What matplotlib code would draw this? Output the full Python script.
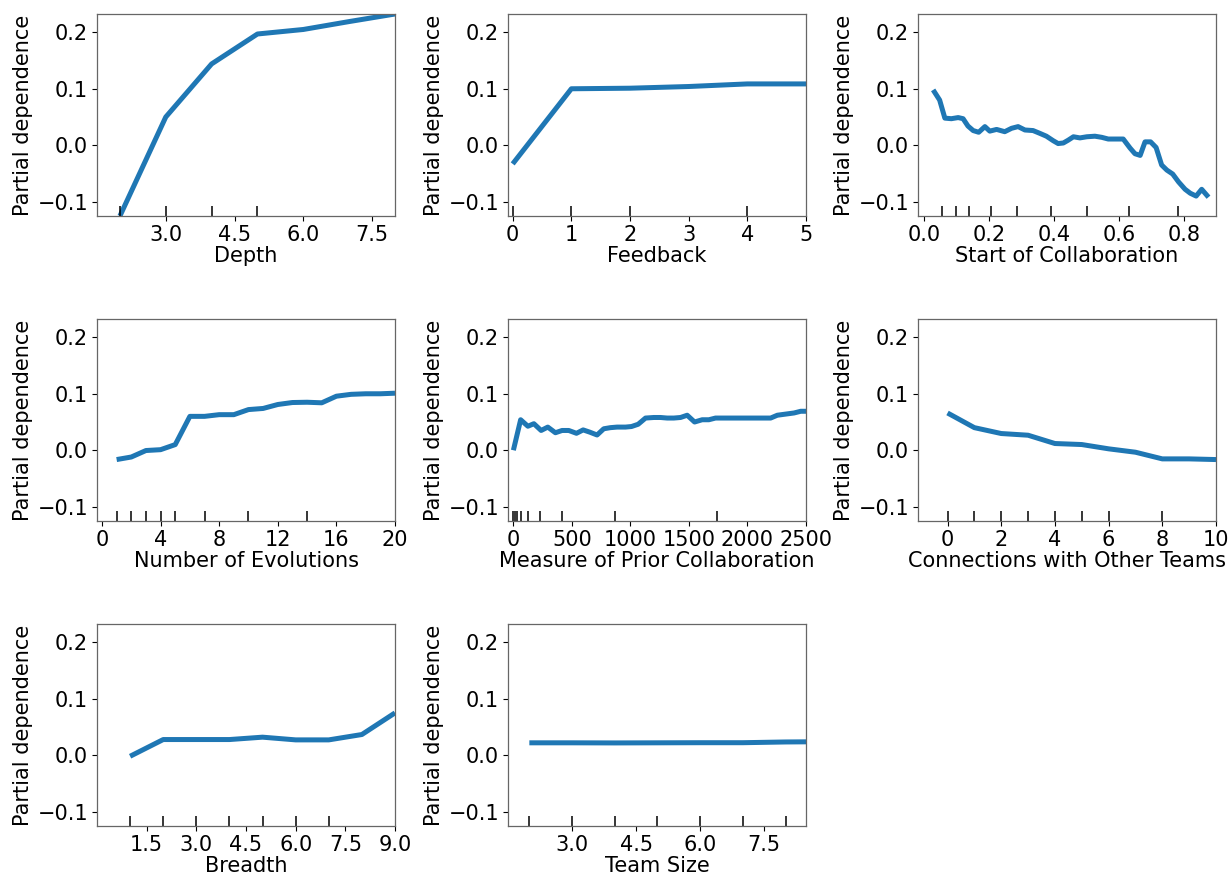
import numpy as np
import matplotlib
matplotlib.use("Agg")
import matplotlib.pyplot as plt
import matplotlib.transforms as mtransforms

# Partial dependence curves (feature grid value -> partial dependence)
depth_x = [2, 3, 4, 5, 6, 7, 8]
depth_y = [-0.1253, 0.050, 0.144, 0.197, 0.205, 0.219, 0.2324]
depth_deciles = [2, 3, 4, 5]

feedback_x = [0, 1, 2, 3, 4, 5]
feedback_y = [-0.033, 0.100, 0.101, 0.104, 0.1086, 0.1086]
feedback_deciles = [0, 1, 2, 4]

start_x = [0.029, 0.049, 0.065, 0.085, 0.106, 0.121, 0.136, 0.152, 0.169, 0.188,
           0.203, 0.224, 0.249, 0.270, 0.290, 0.311, 0.336, 0.357, 0.377, 0.398,
           0.413, 0.429, 0.444, 0.460, 0.480, 0.501, 0.526, 0.547, 0.567, 0.588,
           0.613, 0.634, 0.649, 0.665, 0.680, 0.697, 0.714, 0.731, 0.747, 0.765,
           0.783, 0.803, 0.819, 0.837, 0.854, 0.875]
start_y = [0.098, 0.080, 0.048, 0.047, 0.049, 0.047, 0.034, 0.026, 0.023, 0.033,
           0.025, 0.028, 0.024, 0.030, 0.033, 0.027, 0.026, 0.021, 0.016, 0.008,
           0.003, 0.004, 0.009, 0.015, 0.013, 0.015, 0.016, 0.014, 0.011, 0.011,
           0.011, -0.005, -0.015, -0.018, 0.006, 0.006, -0.004, -0.035, -0.044, -0.051,
           -0.065, -0.078, -0.085, -0.090, -0.078, -0.092]
start_deciles = [0.056, 0.098, 0.138, 0.206, 0.287, 0.392, 0.502, 0.630, 0.781]

evol_x = list(range(1, 21))
evol_y = [-0.0165, -0.012, -0.0005, 0.001, 0.010, 0.060, 0.060, 0.063, 0.063, 0.072,
          0.074, 0.081, 0.0845, 0.085, 0.084, 0.0957, 0.099, 0.100, 0.100, 0.101]
evol_deciles = [1, 2, 3, 4, 5, 7, 10, 14]

prior_x = [0, 62, 124, 175, 237, 294, 359, 416, 473, 539, 596, 653, 715, 772, 829,
           886, 958, 1009, 1066, 1129, 1200, 1257, 1314, 1371, 1428, 1485, 1548,
           1613, 1670, 1727, 1827, 1941, 2055, 2198, 2255, 2326, 2398, 2455, 2500]
prior_y = [0.000, 0.054, 0.0425, 0.047, 0.035, 0.041, 0.031, 0.035, 0.035, 0.030,
           0.036, 0.032, 0.027, 0.038, 0.040, 0.041, 0.041, 0.042, 0.046, 0.057,
           0.058, 0.058, 0.057, 0.057, 0.058, 0.062, 0.050, 0.054, 0.054, 0.057,
           0.057, 0.057, 0.057, 0.057, 0.062, 0.064, 0.066, 0.069, 0.069]
prior_deciles = [0, 11, 28, 68, 124, 226, 418, 868, 1738]

conn_x = list(range(0, 11))
conn_y = [0.066, 0.040, 0.0296, 0.0266, 0.0119, 0.0101, 0.0025, -0.0035, -0.0153,
          -0.0153, -0.0165]
conn_deciles = [0, 1, 2, 3, 4, 5, 6, 8]

breadth_x = list(range(1, 10))
breadth_y = [-0.0018, 0.0278, 0.0278, 0.0278, 0.032, 0.0272, 0.0272, 0.0367, 0.075]
breadth_deciles = [1, 2, 3, 4, 5, 6, 7]

team_x = list(range(2, 10))
team_y = [0.022, 0.022, 0.0218, 0.022, 0.0222, 0.0222, 0.0235, 0.024]
team_deciles = [2, 3, 4, 5, 6, 7, 8]

panels = [
    ("Depth", depth_x, depth_y, depth_deciles, (1.5, 8.0), [3.0, 4.5, 6.0, 7.5]),
    ("Feedback", feedback_x, feedback_y, feedback_deciles, (-0.08, 5.0), [0, 1, 2, 3, 4, 5]),
    ("Start of Collaboration", start_x, start_y, start_deciles, (-0.0175, 0.898),
     [0.0, 0.2, 0.4, 0.6, 0.8]),
    ("Number of Evolutions", evol_x, evol_y, evol_deciles, (-0.34, 20), [0, 4, 8, 12, 16, 20]),
    ("Measure of Prior Collaboration", prior_x, prior_y, prior_deciles, (-46, 2500),
     [0, 500, 1000, 1500, 2000, 2500]),
    ("Connections with Other Teams", conn_x, conn_y, conn_deciles, (-1.1, 10),
     [0, 2, 4, 6, 8, 10]),
    ("Breadth", breadth_x, breadth_y, breadth_deciles, (0.0, 9.0),
     [1.5, 3.0, 4.5, 6.0, 7.5, 9.0]),
    ("Team Size", team_x, team_y, team_deciles, (1.5, 8.48), [3.0, 4.5, 6.0, 7.5]),
]

y_lim = (-0.1253, 0.2324)
y_ticks = [-0.1, 0.0, 0.1, 0.2]

plt.rcParams["font.family"] = "DejaVu Sans"
plt.rcParams["font.size"] = 15

fig = plt.figure(figsize=(12.3, 8.75), dpi=100)
W, H = 1230.0, 875.0
col_left = [97, 508, 918]
row_top = [14, 319, 624]
ax_w, ax_h = 298, 202

for i, (label, xs, ys, dec, xlim, xticks) in enumerate(panels):
    r, c = divmod(i, 3)
    ax = fig.add_axes([col_left[c] / W, 1 - (row_top[r] + ax_h) / H, ax_w / W, ax_h / H])
    ax.plot(xs, ys, color="#1f77b4", lw=3.6, solid_capstyle="butt")
    trans = mtransforms.blended_transform_factory(ax.transData, ax.transAxes)
    ax.vlines(dec, 0, 0.05, transform=trans, color="k", lw=1.1)
    ax.set_xlim(*xlim)
    ax.set_ylim(*y_lim)
    ax.set_xticks(xticks)
    ax.set_yticks(y_ticks)
    ax.set_xlabel(label, fontsize=15, labelpad=1)
    ax.set_ylabel("Partial dependence", fontsize=15, labelpad=3)
    ax.tick_params(labelsize=15, length=3.5, width=0.8, pad=3)
    for s in ax.spines.values():
        s.set_color("#666666")
        s.set_linewidth(0.9)

fig.savefig("out.png", dpi=100)
